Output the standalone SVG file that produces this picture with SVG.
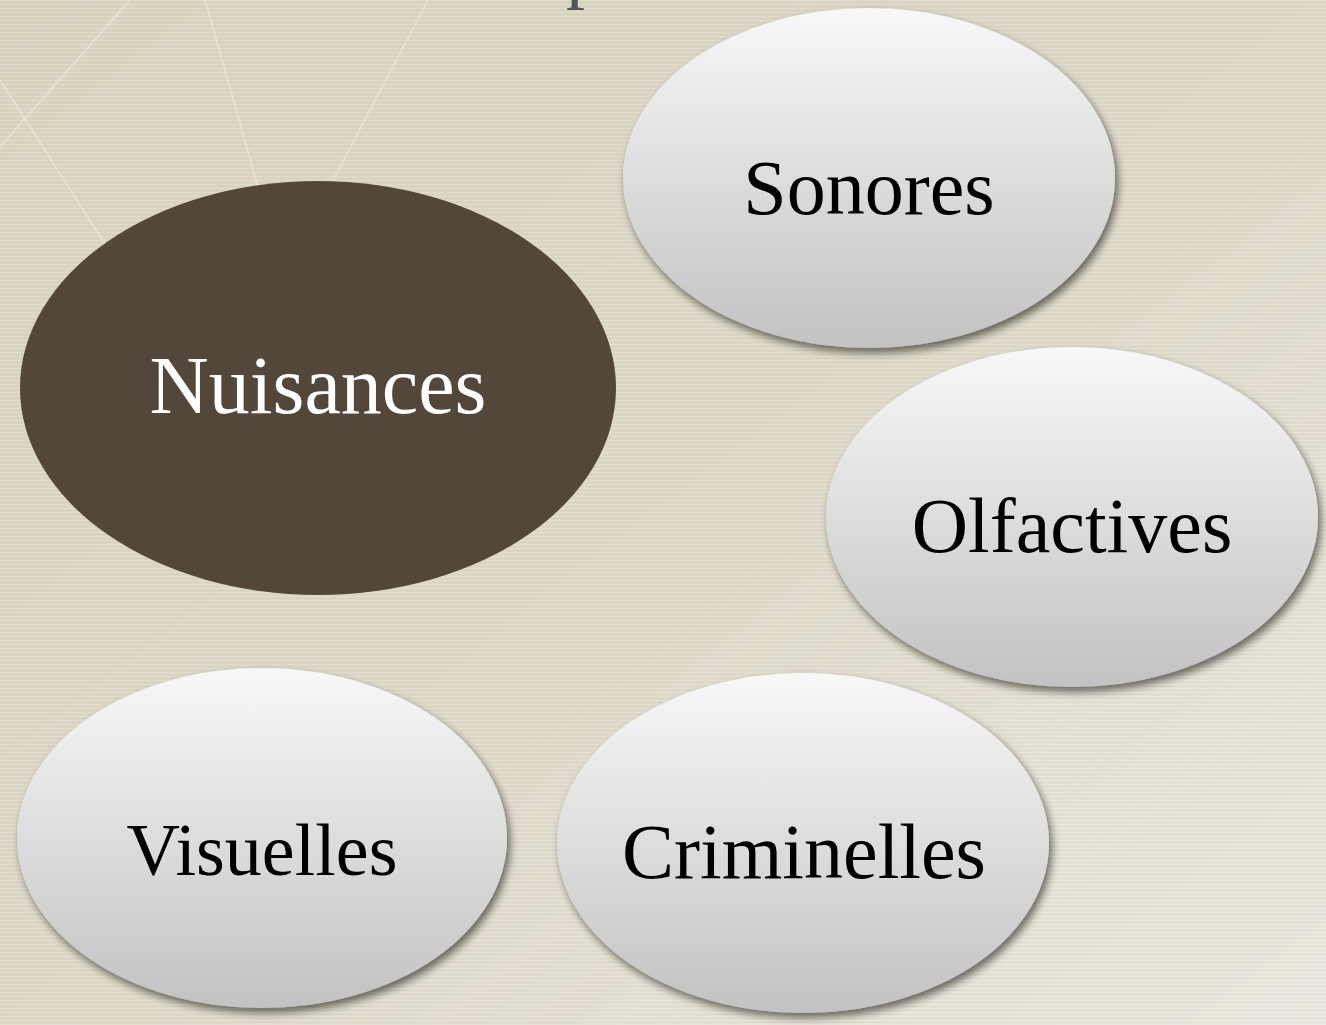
<svg xmlns="http://www.w3.org/2000/svg" width="1326" height="1025" viewBox="0 0 1326 1025">
<defs>
  <linearGradient id="bg" x1="0" y1="0" x2="1" y2="1">
    <stop offset="0" stop-color="#d9d3c0"/>
    <stop offset="0.5" stop-color="#ddd8c8"/>
    <stop offset="1" stop-color="#ebe7de"/>
  </linearGradient>
  <linearGradient id="bub" x1="0" y1="0" x2="0" y2="1">
    <stop offset="0" stop-color="#f8f8f8"/>
    <stop offset="1" stop-color="#c2c2c2"/>
  </linearGradient>
  <filter id="sh" x="-10%" y="-10%" width="125%" height="130%">
    <feGaussianBlur in="SourceAlpha" stdDeviation="4"/>
    <feOffset dx="3" dy="5" result="b"/>
    <feComponentTransfer><feFuncA type="linear" slope="0.55"/></feComponentTransfer>
    <feMerge><feMergeNode/><feMergeNode in="SourceGraphic"/></feMerge>
  </filter>
  <pattern id="tex" width="8" height="4" patternUnits="userSpaceOnUse">
    <rect width="8" height="1" fill="#ffffff" opacity="0.12"/>
    <rect y="2" width="8" height="1" fill="#a89f86" opacity="0.08"/>
  </pattern>
</defs>
<style>
  .bubble { fill: url(#bub); filter: url(#sh); }
  .lbl { font-family: "Liberation Serif", "Times New Roman", serif; font-size: 78px; fill: #000; text-anchor: middle; }
  .bgline { stroke: #ebe7da; stroke-width: 2; fill: none; opacity: 0.7; }
</style>
<rect width="1326" height="1025" fill="url(#bg)"/>
<rect width="1326" height="1025" fill="url(#tex)"/>
<g id="bg-lines">
  <line class="bgline" x1="130" y1="0" x2="0" y2="147"/>
  <line class="bgline" x1="0" y1="80" x2="160" y2="330"/>
  <line class="bgline" x1="205" y1="0" x2="290" y2="300"/>
  <line class="bgline" x1="428" y1="0" x2="270" y2="300"/>
</g>
<text x="566" y="-6" font-family="Liberation Serif, serif" font-size="76" fill="#555555">p</text>
<g id="node-sonores">
  <ellipse class="bubble" cx="869" cy="178" rx="246" ry="170"/>
  <text class="lbl" x="869" y="214">Sonores</text>
</g>
<g id="node-nuisances">
  <ellipse cx="318" cy="388" rx="298" ry="207" fill="#52473a"/>
  <text class="lbl" x="318" y="413" style="fill:#ffffff;font-size:82px">Nuisances</text>
</g>
<g id="node-olfactives">
  <ellipse class="bubble" cx="1072" cy="517" rx="246" ry="170"/>
  <text class="lbl" x="1072" y="552">Olfactives</text>
</g>
<g id="node-visuelles">
  <ellipse class="bubble" cx="262" cy="838" rx="245" ry="170"/>
  <text class="lbl" x="262" y="875" style="font-size:74px">Visuelles</text>
</g>
<g id="node-criminelles">
  <ellipse class="bubble" cx="803" cy="843" rx="246" ry="170"/>
  <text class="lbl" x="804" y="878">Criminelles</text>
</g>
<g id="connectors"></g>
</svg>
